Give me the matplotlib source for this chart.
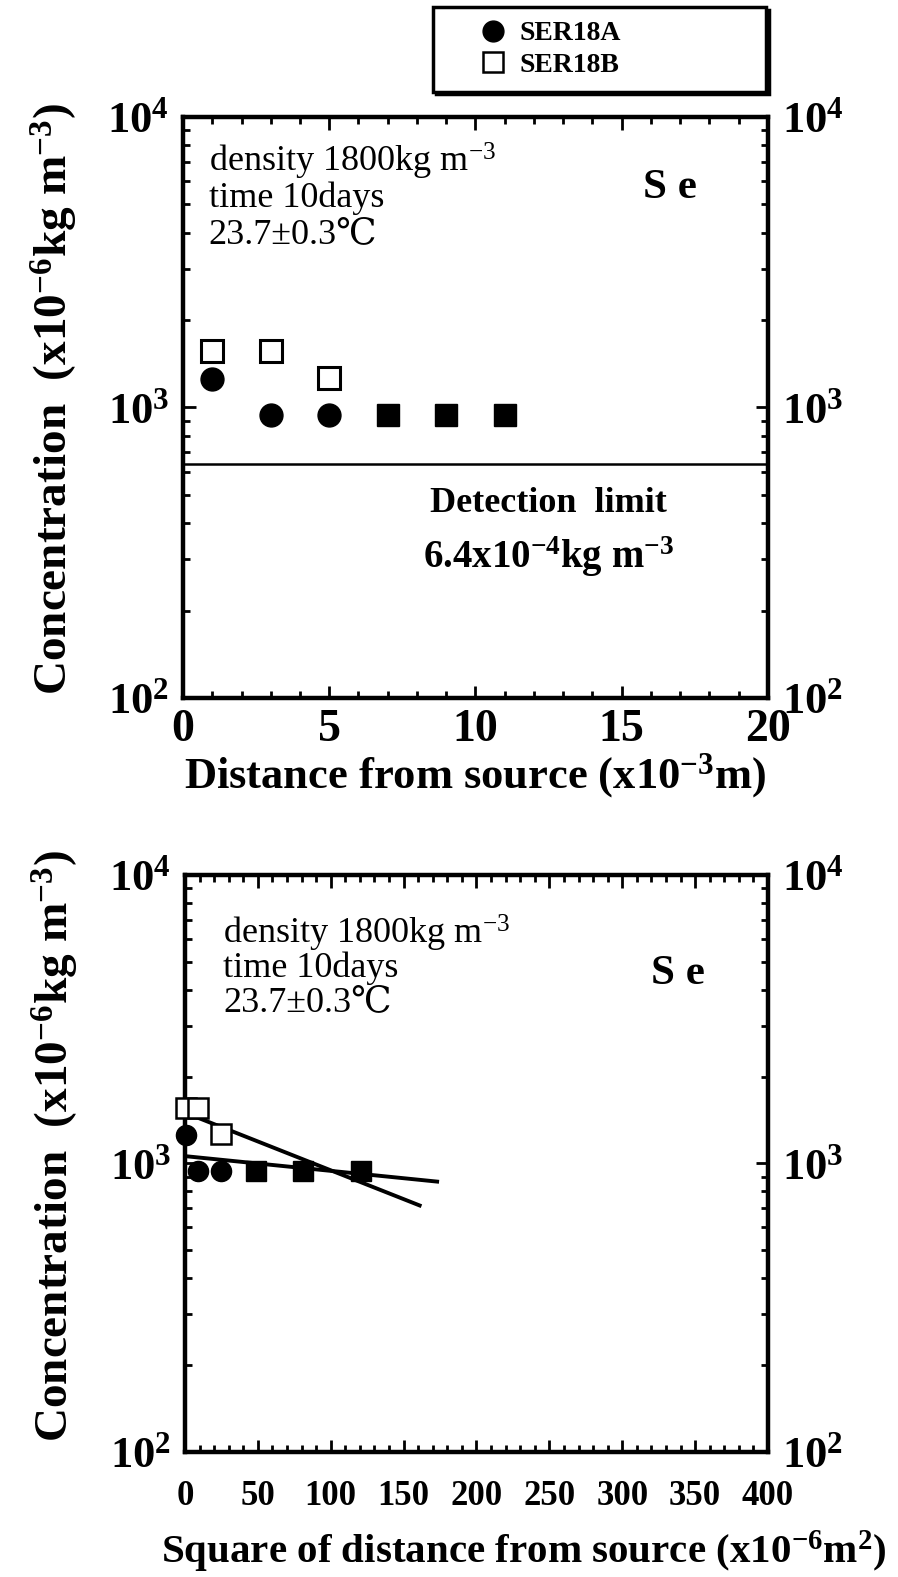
import numpy as np
import matplotlib.pyplot as plt
from matplotlib.ticker import LogLocator, FixedLocator, MultipleLocator, FuncFormatter, NullFormatter
from matplotlib.lines import Line2D

plt.rcParams['font.family'] = ['Liberation Serif', 'DejaVu Serif']
plt.rcParams['font.weight'] = 'bold'
plt.rcParams['axes.labelweight'] = 'bold'
plt.rcParams['mathtext.fontset'] = 'custom'
plt.rcParams['mathtext.rm'] = 'Liberation Serif'
plt.rcParams['mathtext.bf'] = 'Liberation Serif:bold'
plt.rcParams['mathtext.default'] = 'regular'

# distance from source (x1e-3 m) and its square (x1e-6 m^2)
distance = np.array([1, 3, 5, 7, 9, 11])
distance_sq = distance ** 2

# concentration (x1e-6 kg m^-3)
conc_a = np.array([1255, 945, 945, 945, 945, 945])
conc_b = np.array([1560, 1560, 1260, 945, 945, 945])
detection_limit = 640

# exponential fits vs. square of distance (end points)
fit_a_x = [0, 173]
fit_a_y = [1060, 865]
fit_b_x = [0, 161]
fit_b_y = [1500, 715]

both = conc_a == conc_b

fig = plt.figure(figsize=(8.98, 15.77), dpi=100)
ax1 = fig.add_axes([0.2038, 0.5574, 0.6514, 0.3684])
ax2 = fig.add_axes([0.2060, 0.0793, 0.6492, 0.3659])

label_txt = 'Concentration  (x10$^{-6}$kg m$^{-3}$)'
info = ['density 1800kg m$^{-3}$', 'time 10days', '23.7\u00b10.3\u2103']


def style_axes(ax):
    ax.set_yscale('log')
    ax.set_ylim(100, 10000)
    for s in ax.spines.values():
        s.set_linewidth(3.2)
    ax.yaxis.set_major_locator(FixedLocator([100, 1000, 10000]))
    ax.yaxis.set_minor_locator(LogLocator(base=10, subs=np.arange(2, 10)))
    ax.yaxis.set_minor_formatter(NullFormatter())
    ax.yaxis.set_major_formatter(FuncFormatter(lambda v, p: '10$^{%d}$' % round(np.log10(v))))
    ax.tick_params(which='both', direction='in', top=True, right=True,
                   labelright=True, width=2)
    ax.tick_params(which='major', length=9)
    ax.tick_params(which='minor', length=5)
    ax.tick_params(axis='y', labelsize=32, pad=10)
    ax.set_ylabel(label_txt, fontsize=34)


# top panel: concentration vs distance
style_axes(ax1)
ax1.yaxis.set_label_coords(-0.176, 0.515)
ax1.set_xlim(0, 20)
ax1.xaxis.set_major_locator(MultipleLocator(5))
ax1.xaxis.set_minor_locator(MultipleLocator(1))
ax1.tick_params(axis='x', labelsize=33, pad=8)
ax1.set_xlabel('Distance from source (x10$^{-3}$m)', fontsize=32, labelpad=0)

ax1.plot(distance[~both], conc_a[~both], 'o', color='black', ms=16.5, ls='none')
ax1.plot(distance[~both], conc_b[~both], 's', mfc='white', mec='black', mew=2.2, ms=16, ls='none')
ax1.plot(distance[both], conc_b[both], 's', color='black', ms=16, ls='none')
ax1.axhline(detection_limit, color='black', lw=1.8)

for i, t in enumerate(info):
    ax1.text(0.044, 0.924 - 0.063 * i, t, transform=ax1.transAxes, fontsize=26,
             fontweight='normal', va='center', ha='left')
ax1.text(0.786, 0.878, 'S e', transform=ax1.transAxes, fontsize=31, va='center')
ax1.text(0.624, 0.334, 'Detection  limit', transform=ax1.transAxes, fontsize=26,
         va='center', ha='center')
ax1.text(0.624, 0.243, '6.4x10$^{-4}$kg m$^{-3}$', transform=ax1.transAxes, fontsize=28,
         va='center', ha='center')

# bottom panel: concentration vs square of distance
style_axes(ax2)
ax2.yaxis.set_label_coords(-0.178, 0.53)
ax2.set_xlim(0, 400)
ax2.xaxis.set_major_locator(MultipleLocator(50))
ax2.xaxis.set_minor_locator(MultipleLocator(10))
ax2.tick_params(axis='x', labelsize=25, pad=20)
ax2.set_xlabel('Square of distance from source (x10$^{-6}$m$^{2}$)', fontsize=29.5)
ax2.xaxis.set_label_coords(0.581, -0.133)

ax2.plot(fit_a_x, fit_a_y, color='black', lw=2.8, zorder=3)
ax2.plot(fit_b_x, fit_b_y, color='black', lw=2.8, zorder=3)
ax2.plot(distance_sq[~both], conc_a[~both], 'o', color='black', ms=14.5, ls='none', clip_on=False, zorder=4)
ax2.plot(distance_sq[~both], conc_b[~both], 's', mfc='white', mec='black', mew=1.8, ms=14, ls='none', clip_on=False, zorder=4)
ax2.plot(distance_sq[both], conc_b[both], 's', color='black', ms=14, ls='none', zorder=4)

for i, t in enumerate(info):
    ax2.text(0.065, 0.898 - 0.060 * i, t, transform=ax2.transAxes, fontsize=26,
             fontweight='normal', va='center', ha='left')
ax2.text(0.80, 0.828, 'S e', transform=ax2.transAxes, fontsize=31, va='center')

# legend box across the top
handles = [Line2D([], [], marker='o', color='black', ls='none', ms=15),
           Line2D([], [], marker='s', mfc='white', mec='black', mew=1.8, ls='none', ms=14)]
leg = fig.legend(handles, ['SER18A', 'SER18B'], loc='upper left',
                 bbox_to_anchor=(0.482, 0.9417, 0.371, 0.0539), mode='expand',
                 borderaxespad=0, fontsize=20, frameon=True, fancybox=False,
                 edgecolor='black', framealpha=1, borderpad=0.5, labelspacing=0.22,
                 handlelength=3.3, handletextpad=-0.67,
                 shadow={'color': 'black', 'alpha': 1})
leg.get_frame().set_linewidth(2.5)

fig.savefig('out.png', dpi=100)
